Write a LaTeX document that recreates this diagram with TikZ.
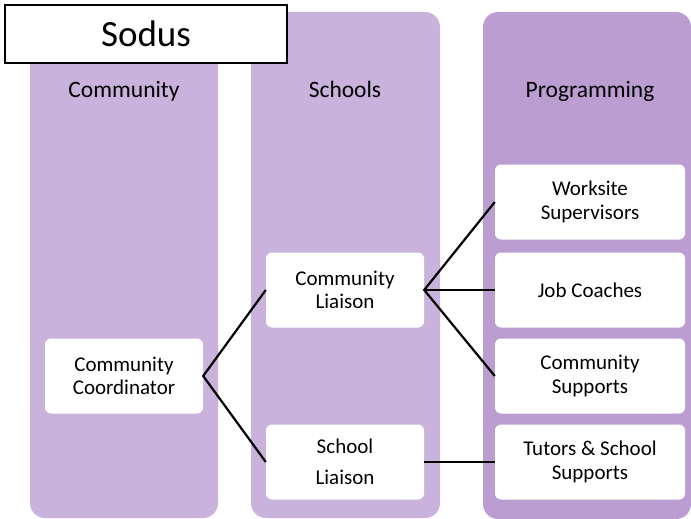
\documentclass[tikz,border=0pt]{standalone}
\usepackage{fontspec}
\setmainfont{Carlito}
\usepackage{tikz}
\definecolor{lav}{HTML}{C9B2DC}
\definecolor{lavdark}{HTML}{BC9DD1}
\tikzset{
  lane/.style={fill=#1, draw=none, rounded corners=15pt},
  entry/.style={fill=white, draw=none, rounded corners=6pt, minimum width=158pt,
    minimum height=75pt, align=center, font=\fontsize{21}{23.5}\selectfont, inner sep=0pt},
  head/.style={font=\fontsize{23.5}{28}\selectfont, text height=16pt, text depth=5pt},
  link/.style={line width=2.2pt, black}
}

\begin{document}
\begin{tikzpicture}[x=1pt, y=-1pt]
			%%%%% START %%%%%
			
			\fill[white] (0, 0) rectangle (691, 519);
			\useasboundingbox (0, 0) rectangle (691, 519);
			
			% lanes
			\fill[lane=lav] (30, 12) rectangle (218, 518);
			\fill[lane=lav] (251, 12) rectangle (440, 518);
			\fill[lane=lavdark] (483, 12) rectangle (691, 519);
			
			% title
			\node[draw=black, line width=1.5pt, fill=white, minimum width=282pt, minimum height=58pt,
			  inner sep=0pt, font=\fontsize{37}{42}\selectfont] (title) at (146, 34) {Sodus};
			
			% headings
			\node[head] (hcomm) at (124, 92) {Community};
			\node[head] (hsch) at (345, 92) {Schools};
			\node[head] (hprog) at (590, 92) {Programming};
			
			% boxes
			\node[entry] (coord) at (124, 376) {Community\\Coordinator};
			\node[entry] (cliaison) at (345, 290) {Community\\Liaison};
			\node[entry] (sliaison) at (345, 462) {School\\[7pt]Liaison};
			
			\node[entry, minimum width=190pt] (work) at (590, 202) {Worksite\\Supervisors};
			\node[entry, minimum width=190pt] (coach) at (590, 290) {Job Coaches};
			\node[entry, minimum width=190pt] (csup) at (590, 376) {Community\\Supports};
			\node[entry, minimum width=190pt] (tutor) at (590, 462) {Tutors \& School\\Supports};
			
			% links
			\draw[link] (cliaison.west) -- (coord.east) -- (sliaison.west);
			\draw[link] (work.west) -- (cliaison.east) -- (csup.west);
			\draw[link] (cliaison.east) -- (coach.west);
			\draw[link] (sliaison.east) -- (tutor.west);
			
			%%%%% END %%%%%
\end{tikzpicture}
\end{document}
